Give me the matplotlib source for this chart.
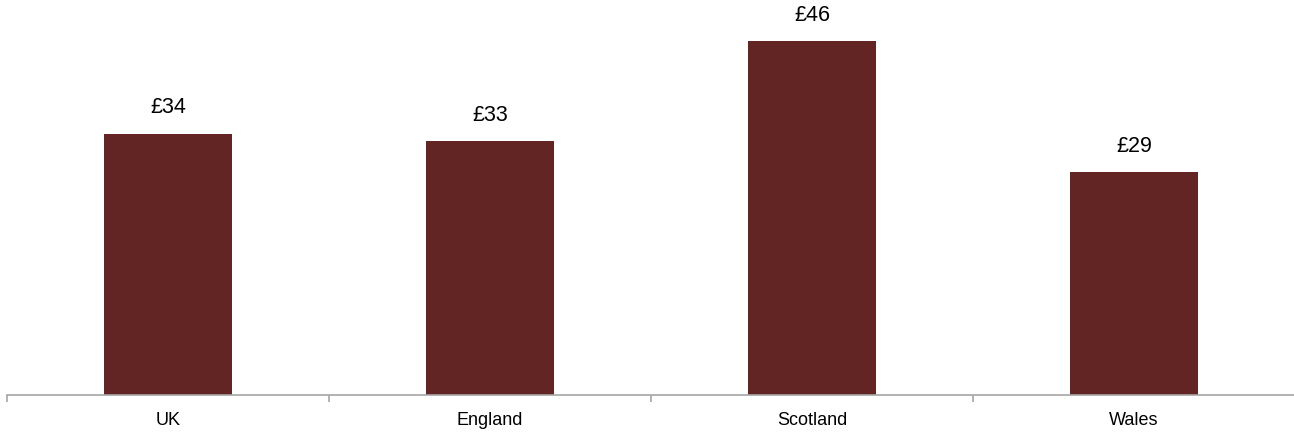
import numpy as np
import matplotlib.pyplot as plt

# average spend per household by nation (GBP)
nations = ['UK', 'England', 'Scotland', 'Wales']
spend = [34, 33, 46, 29]
labels = ['£34', '£33', '£46', '£29']

bar_colour = '#632524'
axis_colour = '#a6a6a6'

plt.rcParams['font.family'] = ['Liberation Sans Narrow', 'Liberation Sans', 'DejaVu Sans']

fig = plt.figure(figsize=(12.94, 4.33), dpi=100)
ax = fig.add_axes([7 / 1294, 1 - 395 / 433, 1288 / 1294, 395 / 433])

x = np.arange(len(nations))
bars = ax.bar(x, spend, width=0.4, color=bar_colour)

for rect, lab in zip(bars, labels):
    ax.annotate(lab, (rect.get_x() + rect.get_width() / 2, rect.get_height()),
                xytext=(0, 11), textcoords='offset points',
                ha='center', va='bottom', fontsize=15.5, color='black')

ax.set_xlim(-0.5, len(nations) - 0.5)
ax.set_ylim(0, 51.4)

# category labels at bar centres, tick marks between categories
ax.set_xticks(x)
ax.set_xticklabels(nations, fontsize=13)
ax.set_xticks(np.arange(-0.5, len(nations)), minor=True)
ax.tick_params(axis='x', which='major', length=0, pad=12)
ax.tick_params(axis='x', which='minor', length=5, width=1.2, color=axis_colour, direction='out')

ax.set_yticks([])
for side in ['top', 'right', 'left']:
    ax.spines[side].set_visible(False)
ax.spines['bottom'].set_color(axis_colour)
ax.spines['bottom'].set_linewidth(1.2)

fig.savefig('out.png', dpi=100)
